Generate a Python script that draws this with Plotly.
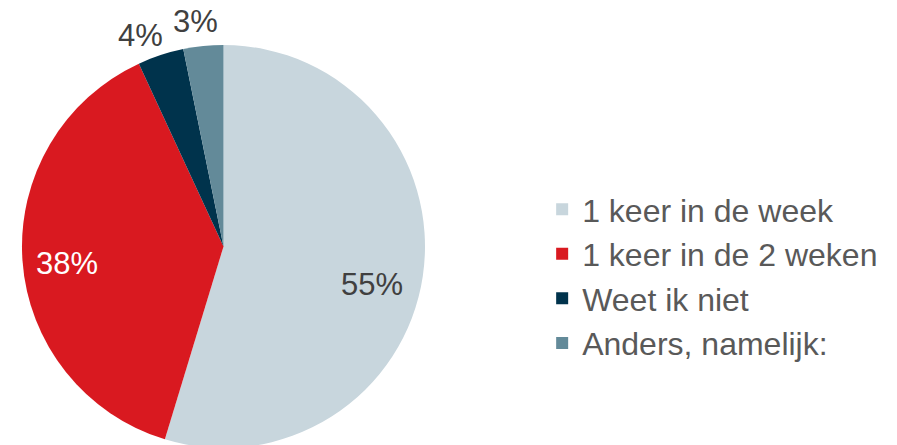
import math
import plotly.graph_objects as go

categories = ["1 keer in de week", "1 keer in de 2 weken", "Weet ik niet", "Anders, namelijk:"]
values = [54.7, 38.4, 3.7, 3.2]          # shares as drawn (percent)
colors = ["#C8D6DD", "#D91920", "#00334C", "#638A99"]
label_colors = ["#404040", "#FFFFFF", "#404040", "#404040"]
# label placement (fraction of radius, angular nudge in degrees from slice middle)
label_radius = [0.761, 0.781, 1.124, 1.125]
label_nudge = [5.9, -2.1, -3.2, -1.3]

W, H = 897, 445
PAGE_OFFSET = 8  # default body margin of the html page
cx_px, cy_px, R_px = 223.5 - PAGE_OFFSET, 246.5 - PAGE_OFFSET, 201.5
FONT = "Liberation Sans, Arial, sans-serif"

fig = go.Figure(go.Pie(
    labels=categories,
    values=values,
    sort=False,
    direction="clockwise",
    rotation=0,
    marker=dict(colors=colors, line=dict(width=0)),
    textinfo="none",
    hoverinfo="label+percent",
    domain=dict(x=[(cx_px - R_px) / W, (cx_px + R_px) / W],
                y=[(H - cy_px - R_px) / H, (H - cy_px + R_px) / H]),
    showlegend=True,
))

total = sum(values)
cum = 0
annotations = []
for v, col, rf, nd in zip(values, label_colors, label_radius, label_nudge):
    mid = (cum + v / 2) / total * 360 + nd
    cum += v
    a = math.radians(mid)
    px = cx_px + rf * R_px * math.sin(a)
    py = cy_px - rf * R_px * math.cos(a)
    annotations.append(dict(
        x=px / W, y=(H - py) / H, xref="paper", yref="paper",
        text=f"{round(v / total * 100)}%", showarrow=False,
        xanchor="center", yanchor="middle",
        font=dict(size=31, color=col, family=FONT),
    ))

fig.update_layout(
    width=W, height=H,
    margin=dict(l=0, r=0, t=0, b=0),
    paper_bgcolor="white",
    plot_bgcolor="white",
    annotations=annotations,
    legend=dict(
        x=0.5955, y=0.397, xanchor="left", yanchor="middle",
        font=dict(size=32, color="#595959", family=FONT),
        bgcolor="rgba(0,0,0,0)",
        itemclick=False,
    ),
)

fig.write_html("out.html")
